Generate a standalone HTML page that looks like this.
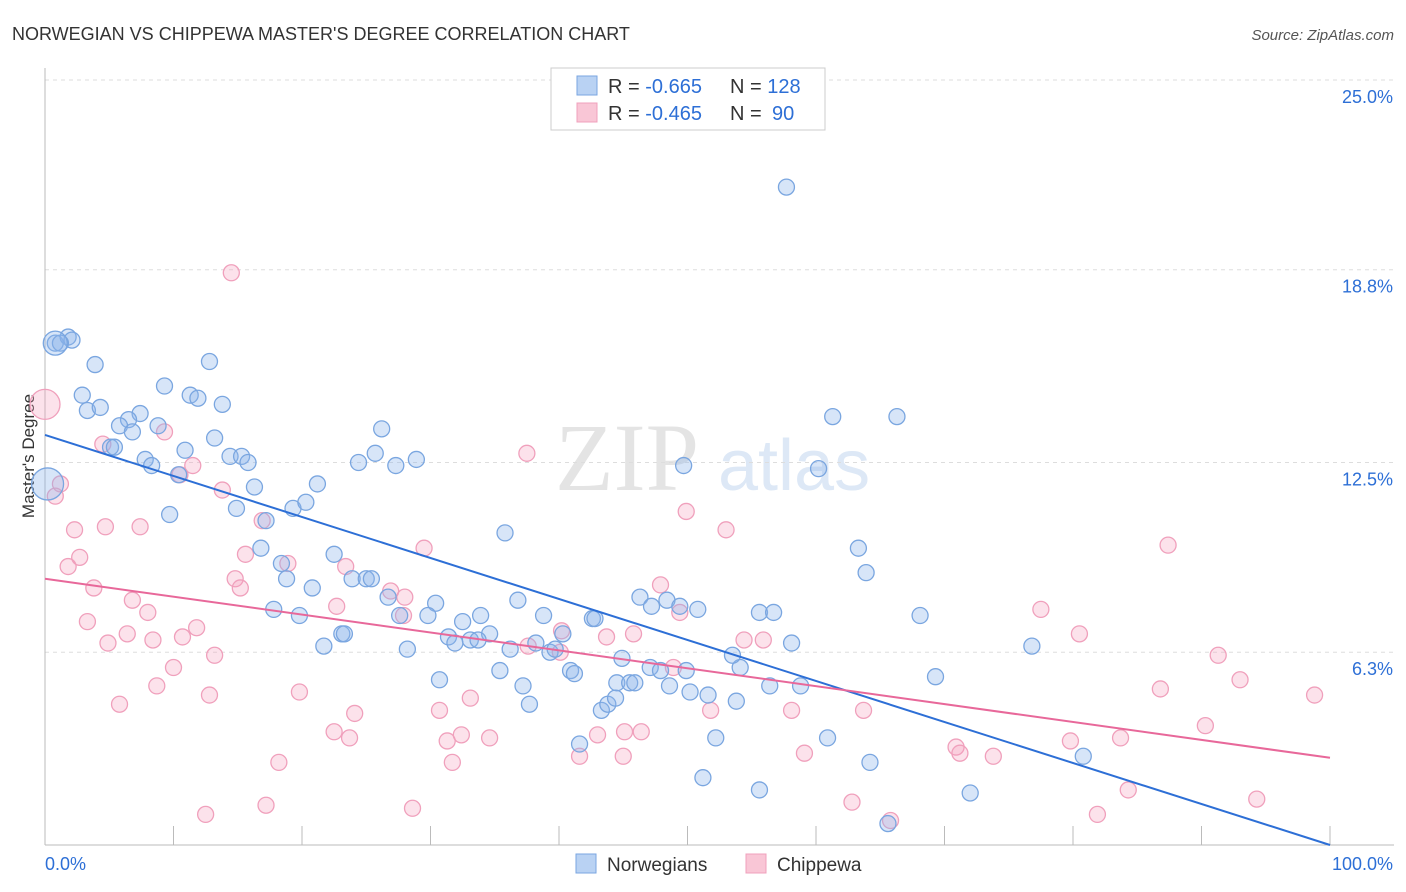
<!DOCTYPE html>
<html><head><meta charset="utf-8"><style>
body{margin:0;background:#fff;font-family:"Liberation Sans",sans-serif;}
#wrap{position:relative;width:1406px;height:892px;overflow:hidden;}
</style></head><body>
<div id="wrap">
<svg id="svg" width="1406" height="892" xmlns="http://www.w3.org/2000/svg">
<text x="12" y="40" font-size="18" fill="#333">NORWEGIAN VS CHIPPEWA MASTER'S DEGREE CORRELATION CHART</text>
<text x="1394" y="40" font-size="15" fill="#555" font-style="italic" text-anchor="end">Source: ZipAtlas.com</text>
<text x="34" y="456" font-size="17" fill="#333" text-anchor="middle" transform="rotate(-90 34 456)">Master's Degree</text>
<text x="555" y="490" font-size="96" fill="#e4e4e4" font-family="Liberation Serif, serif">ZIP</text>
<text x="718" y="490" font-size="72" fill="#dde8f6">atlas</text>
<g id="grid"></g><g id="pts"></g><g id="lines"></g>
<g>
<rect x="551" y="68" width="274" height="62" fill="#fff" stroke="#ccc"/>
<rect x="577" y="76" width="20" height="19" fill="#b9d2f3" stroke="#7aa6e0"/>
<rect x="577" y="103" width="20" height="19" fill="#f9c6d6" stroke="#f0a0bc"/>
<text x="608" y="93" font-size="20" fill="#333">R = <tspan fill="#2d6fd6">-0.665</tspan><tspan x="730">N = </tspan><tspan fill="#2d6fd6">128</tspan></text>
<text x="608" y="120" font-size="20" fill="#333">R = <tspan fill="#2d6fd6">-0.465</tspan><tspan x="730">N = </tspan><tspan fill="#2d6fd6" x="772">90</tspan></text>
</g>
<g>
<rect x="576" y="854" width="20" height="19" fill="#b9d2f3" stroke="#7aa6e0"/>
<text x="607" y="871" font-size="19" fill="#333">Norwegians</text>
<rect x="746" y="854" width="20" height="19" fill="#f9c6d6" stroke="#f0a0bc"/>
<text x="777" y="871" font-size="19" fill="#333">Chippewa</text>
</g>
</svg>
</div>
<script>
const yTicks=[25.0,18.8,12.5,6.3];
const yTickLabels=["25.0%","18.8%","12.5%","6.3%"];
const xTickLabels=["0.0%","100.0%"];
const blueX=[0.8,1.8,2.1,1.2,3.9,12.8,2.9,3.3,4.3,9.3,11.3,11.9,13.8,7.4,6.5,5.8,6.8,8.8,5.1,5.4,13.2,10.9,7.8,8.3,14.4,15.3,15.8,10.4,16.3,14.9,17.2,9.7,19.3,20.3,21.2,26.2,25.7,24.4,27.3,28.9,35.8,16.8,18.4,18.8,22.5,20.8,23.9,25.0,25.4,26.7,30.4,27.6,29.8,17.8,19.8,23.1,23.3,21.7,28.2,32.5,33.9,36.8,38.8,31.4,31.9,33.1,34.6,33.7,36.2,38.2,39.3,40.3,39.7,42.6,42.8,46.3,47.2,48.4,49.4,50.8,44.9,47.1,47.9,49.9,35.4,40.9,41.2,30.7,37.2,37.7,44.5,45.5,45.9,48.6,50.2,51.6,43.3,43.8,44.4,53.8,54.1,53.5,55.6,56.7,58.1,56.4,58.8,49.7,60.2,61.3,66.3,63.3,63.9,68.1,69.3,76.8,52.2,60.9,41.6,64.2,51.2,55.6,72.0,80.8,65.6,57.7];
const blueY=[16.4,16.6,16.5,16.4,15.7,15.8,14.7,14.2,14.3,15.0,14.7,14.6,14.4,14.1,13.9,13.7,13.5,13.7,13.0,13.0,13.3,12.9,12.6,12.4,12.7,12.7,12.5,12.1,11.7,11.0,10.6,10.8,11.0,11.2,11.8,13.6,12.8,12.5,12.4,12.6,10.2,9.7,9.2,8.7,9.5,8.4,8.7,8.7,8.7,8.1,7.9,7.5,7.5,7.7,7.5,6.9,6.9,6.5,6.4,7.3,7.5,8.0,7.5,6.8,6.6,6.7,6.9,6.7,6.4,6.6,6.3,6.9,6.4,7.4,7.4,8.1,7.8,8.0,7.8,7.7,6.1,5.8,5.7,5.7,5.7,5.7,5.6,5.4,5.2,4.6,5.3,5.3,5.3,5.2,5.0,4.9,4.4,4.6,4.8,4.7,5.8,6.2,7.6,7.6,6.6,5.2,5.2,12.4,12.3,14.0,14.0,9.7,8.9,7.5,5.5,6.5,3.5,3.5,3.3,2.7,2.2,1.8,1.7,2.9,0.7,21.5];
const pinkX=[1.2,0.8,14.5,4.5,9.3,11.5,10.5,13.8,16.9,2.3,4.7,7.4,2.7,1.8,15.6,18.9,14.8,15.2,3.8,6.8,8.0,3.3,6.4,4.9,8.4,10.7,11.8,22.7,23.4,26.9,28.0,27.9,29.5,37.5,49.9,53.0,47.9,49.4,43.7,45.8,40.2,37.6,40.1,48.9,54.4,55.9,10.0,13.2,8.7,12.8,19.8,5.8,24.1,30.7,33.1,22.5,23.7,31.3,32.4,34.6,18.2,31.7,41.6,43.0,45.1,46.4,45.0,51.8,58.1,59.1,63.7,70.9,71.2,73.8,79.8,83.7,90.3,77.5,80.5,87.4,91.3,93.0,86.8,98.8,84.3,94.3,81.9,62.8,65.8,17.2,28.6,12.5];
const pinkY=[11.8,11.4,18.7,13.1,13.5,12.4,12.1,11.6,10.6,10.3,10.4,10.4,9.4,9.1,9.5,9.2,8.7,8.4,8.4,8.0,7.6,7.3,6.9,6.6,6.7,6.8,7.1,7.8,9.1,8.3,8.1,7.5,9.7,12.8,10.9,10.3,8.5,7.6,6.8,6.9,7.0,6.5,6.3,5.8,6.7,6.7,5.8,6.2,5.2,4.9,5.0,4.6,4.3,4.4,4.8,3.7,3.5,3.4,3.6,3.5,2.7,2.7,2.9,3.6,3.7,3.7,2.9,4.4,4.4,3.0,4.4,3.2,3.0,2.9,3.4,3.5,3.9,7.7,6.9,9.8,6.2,5.4,5.1,4.9,1.8,1.5,1.0,1.4,0.8,1.3,1.2,1.0];
const bigBlue=[[0.2,11.8]];
const bigPink=[[0.0,14.4]];
const blueTrend=[13.4,0.0];
const pinkTrend=[8.7,2.85];
const NS="http://www.w3.org/2000/svg";
const X=v=>45+v*12.85, Y=v=>845-v*30.6;
function mk(tag,attrs,parent){const e=document.createElementNS(NS,tag);for(const k in attrs)e.setAttribute(k,attrs[k]);parent.appendChild(e);return e;}
const grid=document.getElementById('grid'),pts=document.getElementById('pts'),lines=document.getElementById('lines'),svg=document.getElementById('svg');
yTicks.forEach((t,i)=>{
 const l=mk('line',{x1:45,x2:1394,y1:Y(t),y2:Y(t),stroke:'#ddd','stroke-dasharray':'4,4'},grid);
 
 
 const tx=mk('text',{x:1393,y:Y(t)+23,'font-size':18,fill:'#2d6fd6','text-anchor':'end'},grid);
 tx.textContent=yTickLabels[i];
 
 
});
const ax=mk('line',{x1:45,x2:1394,y1:845,y2:845,stroke:'#bbb'},grid);


const ay=mk('line',{x1:45,x2:45,y1:68,y2:845,stroke:'#bbb'},grid);


for(let i=1;i<=10;i++){const t=mk('line',{x1:X(i*10),x2:X(i*10),y1:826,y2:845,stroke:'#bbb'},grid);
 
 }
[[0,45,'start'],[1,1393,'end']].forEach(([i,x,a])=>{const t=mk('text',{x:x,y:870,'font-size':18,fill:'#2d6fd6','text-anchor':a},grid);t.textContent=xTickLabels[i];
 
 });
function dot(x,y,r,fill,stroke,name){const c=mk('circle',{cx:X(x),cy:Y(y),r:r,fill:fill,stroke:stroke,'stroke-width':1.3},pts);
 
 }
const BF='rgba(140,180,235,0.35)',BS='#7aa6e0',PF='rgba(245,160,190,0.3)',PS='#f0a0bc';
pinkX.forEach((x,i)=>dot(x,pinkY[i],8,PF,PS,'point-chippewa'));
bigPink.forEach(p=>dot(p[0],p[1],15,PF,PS,'point-chippewa'));
blueX.forEach((x,i)=>dot(x,blueY[i],8,BF,BS,'point-norwegians'));
bigBlue.forEach(p=>dot(p[0],p[1],16,BF,BS,'point-norwegians'));
bigBlue.forEach(p=>dot(0.8,16.4,12,BF,BS,'point-norwegians'));
const bl=mk('line',{x1:X(0),y1:Y(blueTrend[0]),x2:X(100),y2:Y(blueTrend[1]),stroke:'#2d6fd6','stroke-width':2},lines);


const pl=mk('line',{x1:X(0),y1:Y(pinkTrend[0]),x2:X(100),y2:Y(pinkTrend[1]),stroke:'#e8689a','stroke-width':2},lines);


</script>
</body></html>
